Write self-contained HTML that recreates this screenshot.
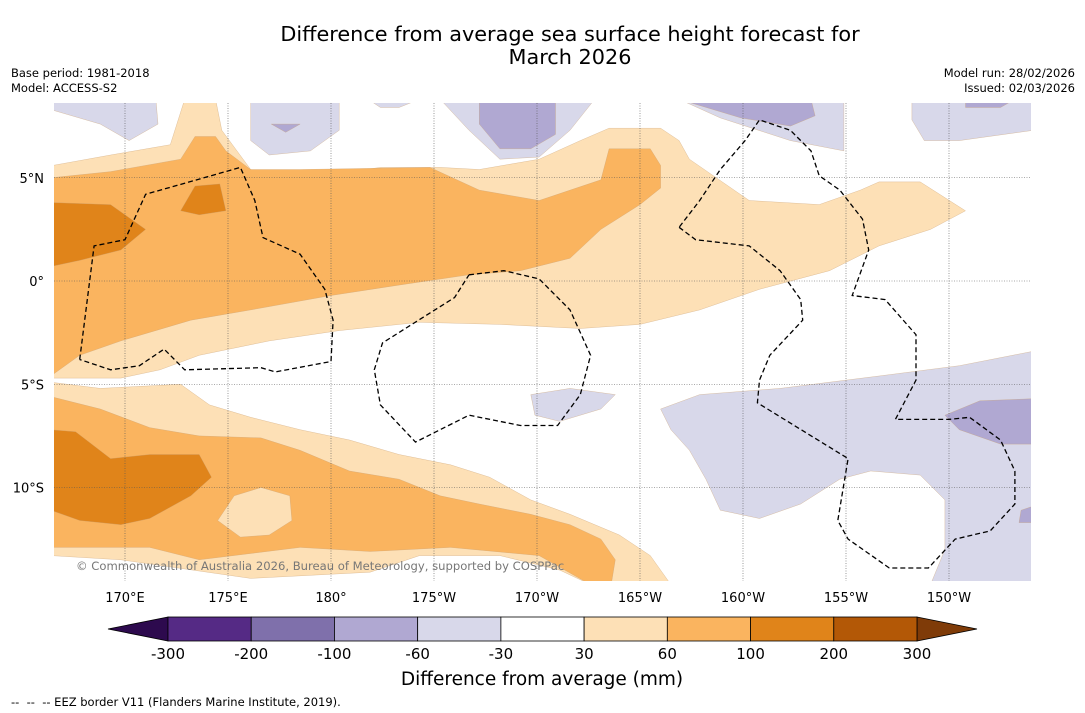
<!DOCTYPE html>
<html><head><meta charset="utf-8">
<style>
body{margin:0;background:#fff;width:1085px;height:713px;overflow:hidden;font-family:"DejaVu Sans","Liberation Sans",sans-serif;}
svg{position:absolute;left:0;top:0}
</style></head>
<body>
<svg id="svg" width="1085" height="713" xmlns="http://www.w3.org/2000/svg">
<text x="570" y="41" text-anchor="middle" font-size="20.8" fill="#000">Difference from average sea surface height forecast for</text>
<text x="570" y="64" text-anchor="middle" font-size="20.8" fill="#000">March 2026</text>
<text x="11" y="77" font-size="11.5">Base period: 1981-2018</text>
<text x="11" y="92" font-size="11.5">Model: ACCESS-S2</text>
<text x="1075" y="77" font-size="11.5" text-anchor="end">Model run: 28/02/2026</text>
<text x="1075" y="92" font-size="11.5" text-anchor="end">Issued: 02/03/2026</text>
<defs><clipPath id="mapclip"><rect x="54" y="103" width="977" height="478"/></clipPath></defs>
<g id="map" clip-path="url(#mapclip)"></g>
<g id="grid"></g>
<g id="eez" clip-path="url(#mapclip)"></g>
<text x="76" y="570" font-size="11.6" fill="#777">© Commonwealth of Australia 2026, Bureau of Meteorology, supported by COSPPac</text>
<g id="xt"></g>
<g id="yt"></g>
<g id="cbar"></g>
<text x="542" y="685" text-anchor="middle" font-size="18.5">Difference from average (mm)</text>
<text x="11" y="706" font-size="11.5">-- &#160;-- &#160;-- EEZ border V11 (Flanders Marine Institute, 2019).</text>
</svg>
<script>
const lonTicks=[170,175,180,185,190,195,200,205,210];
const lonLabels=["170°E","175°E","180°","175°W","170°W","165°W","160°W","155°W","150°W"];
const latTicks=[5,0,-5,-10];
const latLabels=["5°N","0°","5°S","10°S"];
const cbLevels=["-300","-200","-100","-60","-30","30","60","100","200","300"];
const cbColors=["#552a85","#7f70ab","#b0a8d2","#d8d8ea","#ffffff","#fde0b6","#fab45f","#e0841a","#b35806"];
const cbEnds=["#2d0a4e","#7f3b08"];
const LO="#fde0b6",OR="#fab45f",DO="#e0841a",LP="#d8d8ea",MP="#b0a8d2";
const LO1=[[166.5,5.6],[169.3,6.1],[172.2,6.6],[172.9,8.8],[174.4,8.8],[174.7,7.3],[176.1,5.4],[178,4.9],[182.4,5.5],[185.3,5.5],[187.2,5.4],[190.1,5.9],[192.1,6.8],[193.5,7.4],[196,7.4],[196.9,6.8],[197.4,5.9],[200.3,3.9],[203.7,3.7],[205.7,4.4],[206.6,4.8],[208.6,4.8],[210.8,3.4],[209.1,2.5],[206.6,1.7],[204.2,0.5],[200.8,-0.4],[197.9,-1.4],[195,-2.1],[192.1,-2.3],[188.2,-2.1],[184.3,-2],[180.4,-2.4],[177,-2.9],[173.6,-3.6],[171.7,-4.3],[169.8,-4.7],[166.4,-4.7]];
const OR1=[[166.4,5],[169.3,5.3],[172.7,5.9],[173.4,7],[174.4,7],[174.9,6.3],[176.1,5.4],[178.5,5.4],[184.8,5.5],[187.2,4.4],[190.1,3.9],[193.1,4.9],[193.5,6.4],[195.5,6.4],[196,5.6],[196,4.5],[195,3.7],[193.1,2.5],[191.6,1.1],[189.2,0.5],[186.7,0.3],[183.3,-0.2],[180,-0.7],[176.1,-1.4],[173.2,-1.9],[169.8,-2.9],[167.8,-3.6],[166.4,-4.6]];
const DO1=[[166.4,3.8],[169.3,3.7],[171,2.5],[169.8,1.5],[167.8,1],[166.4,0.7]];
const DO2=[[172.7,3.4],[173.4,4.6],[174.6,4.7],[174.9,3.4],[173.6,3.2]];
const LO2=[[166.4,-4.9],[168.8,-5.2],[172.7,-5],[174.1,-6],[176.1,-6.6],[178.5,-7.2],[180.9,-7.7],[183.3,-8.4],[185.8,-8.9],[187.7,-9.5],[189.7,-10.6],[191.6,-11.3],[194,-12.3],[195.5,-13.3],[196.5,-14.7],[192.6,-14.7],[191.1,-14],[188.2,-13.3],[184.3,-13.3],[181.9,-14.1],[176.1,-14.4],[169.8,-13.5],[166.4,-13.3]];
const OR2=[[166.4,-5.6],[168.8,-6.2],[171.2,-7.1],[173.6,-7.5],[176.6,-7.6],[178.5,-8.2],[180.9,-9.2],[183.3,-9.6],[185.3,-10.4],[187.2,-10.8],[189.7,-11.3],[191.6,-11.8],[193.1,-12.5],[193.8,-13.5],[193.6,-14.7],[192.6,-14.7],[190.1,-13.3],[185.8,-12.9],[181.9,-13.1],[178.5,-12.9],[173.6,-13.5],[171.2,-12.9],[166.4,-12.9]];
const DO3=[[166.4,-7.2],[167.6,-7.3],[169.3,-8.6],[171.2,-8.4],[173.6,-8.4],[174.2,-9.5],[173.2,-10.4],[171.2,-11.5],[169.8,-11.8],[167.8,-11.6],[166.4,-11.1]];
const LO3=[[174.5,-11.6],[175.3,-10.4],[176.6,-10],[178,-10.4],[178.1,-11.6],[177,-12.3],[175.6,-12.4]];
const LP1=[[166.4,8.8],[171.5,8.8],[171.6,7.6],[170.2,6.8],[168.8,7.6],[166.4,8.3]];
const LP2=[[176.1,8.8],[180.4,8.8],[180.4,7.3],[179,6.3],[177,6.1],[176.1,6.8]];
const LP3=[[181.8,8.8],[184.3,8.8],[183.3,8.4],[182.4,8.4]];
const LP4=[[185.3,8.8],[192.8,8.8],[191.6,7.3],[190.1,6],[188.2,5.9],[186.7,7.3]];
const LP5=[[196.9,8.8],[204.9,8.8],[204.9,6.3],[202.3,6.8],[198.9,7.9]];
const LP6=[[208.2,8.8],[214.1,8.8],[214.1,7.3],[210.5,6.8],[208.8,6.8],[208.2,7.8]];
const LP7=[[189.7,-5.5],[191.6,-5.2],[193.8,-5.5],[193.1,-6.2],[191.1,-6.8],[189.9,-6.5]];
const LP8=[[196,-6.2],[197.9,-5.5],[201.8,-5.2],[206.6,-4.6],[210.5,-4.1],[214.1,-3.4],[214.1,-14.7],[209.1,-14.7],[209.8,-13],[209.8,-10.6],[208.6,-9.4],[206.2,-9.2],[204.7,-9.6],[202.8,-10.8],[200.8,-11.5],[198.9,-11.1],[198.2,-9.6],[197.4,-8.2],[196.5,-7.2]];
const MP1=[[187.2,8.8],[190.9,8.8],[190.9,7.1],[189.7,6.4],[188.2,6.4],[187.2,7.6]];
const MP2=[[196.9,8.8],[203.3,8.8],[203.5,8],[202.3,7.5],[199.9,7.9]];
const MP3=[[210.8,8.8],[213.2,8.8],[212.5,8.4],[210.8,8.4]];
const MP4=[[177.1,7.6],[178.5,7.6],[177.8,7.2]];
const MP5=[[209.8,-6.5],[211.5,-5.8],[214.1,-5.7],[214.1,-7.9],[212.5,-7.9],[210.5,-7.2]];
const MP6=[[213.5,-11.1],[214.1,-10.9],[214.1,-11.7],[213.4,-11.7]];
const EEZ1=[[167.8,-3.8],[168.5,1.7],[170,2],[171,4.2],[175.6,5.5],[176.3,3.9],[176.7,2.1],[178.5,1.3],[179.7,-0.4],[180.1,-1.9],[180,-3.9],[177.3,-4.4],[176.6,-4.2],[172.9,-4.3],[171.9,-3.3],[170.7,-4.1],[169.3,-4.3],[167.8,-3.8]];
const EEZ2=[[186.7,0.3],[188.4,0.5],[190.1,0.1],[191.6,-1.4],[192.6,-3.6],[192.1,-5.5],[191,-7],[189.2,-7],[186.7,-6.5],[184.1,-7.8],[182.4,-6],[182.1,-4.3],[182.5,-3],[186,-0.8],[186.7,0.3]];
const EEZ3=[[196.9,2.6],[197.7,2],[200.3,1.7],[201.8,0.5],[202.8,-0.9],[202.9,-1.9],[201.3,-3.6],[200.8,-4.8],[200.7,-5.9],[205.1,-8.6],[204.6,-11.6],[205.1,-12.5],[207.1,-13.9],[209,-13.9],[210.3,-12.5],[212,-12.1],[213.2,-10.8],[213.2,-9.2],[212.5,-7.7],[211,-6.6],[210,-6.7],[207.4,-6.7],[208.4,-4.8],[208.4,-2.6],[206.9,-0.9],[205.3,-0.7],[206.1,1.5],[205.8,3],[204.7,4.4],[203.7,5.1],[203.3,6.3],[202.3,7.3],[200.8,7.8],[200.1,6.8],[198.9,5.4],[197.9,3.9],[196.9,2.6]];

const X=lon=>331+(lon-180)*20.6;
const Y=lat=>281-lat*20.65;
const NS="http://www.w3.org/2000/svg";
function mk(tag,attrs,parent){const e=document.createElementNS(NS,tag);for(const k in attrs)e.setAttribute(k,attrs[k]);parent.appendChild(e);return e;}
const map=document.getElementById('map');
const bg=mk('rect',{x:54,y:103,width:977,height:478,fill:'#fff'},map);


const layers=[[LO1,LO,'anomaly-30-60-north'],[OR1,OR,'anomaly-60-100-north'],[DO1,DO,'anomaly-100-200-west'],[DO2,DO,'anomaly-100-200-blob'],[LO2,LO,'anomaly-30-60-south'],[OR2,OR,'anomaly-60-100-south'],[DO3,DO,'anomaly-100-200-south'],[LO3,LO,'anomaly-30-60-pocket'],
[LP1,LP,'anomaly-neg30-60-a'],[LP2,LP,'anomaly-neg30-60-b'],[LP3,LP,'anomaly-neg30-60-c'],[LP4,LP,'anomaly-neg30-60-d'],[LP5,LP,'anomaly-neg30-60-e'],[LP6,LP,'anomaly-neg30-60-f'],[LP7,LP,'anomaly-neg30-60-g'],[LP8,LP,'anomaly-neg30-60-east'],
[MP1,MP,'anomaly-neg60-100-a'],[MP2,MP,'anomaly-neg60-100-b'],[MP3,MP,'anomaly-neg60-100-c'],[MP4,MP,'anomaly-neg60-100-d'],[MP5,MP,'anomaly-neg60-100-e'],[MP6,MP,'anomaly-neg60-100-f']];
layers.forEach(([pts,c,n])=>{
  const p=mk('polygon',{points:pts.map(q=>X(q[0]).toFixed(1)+','+Y(q[1]).toFixed(1)).join(' '),fill:c,stroke:'#c9a070','stroke-width':0.3,'stroke-linejoin':'round'},map);
  
  
});
const grid=document.getElementById('grid');
lonTicks.forEach((l,i)=>{
  const g=mk('line',{x1:X(l),x2:X(l),y1:103,y2:581,stroke:'#555','stroke-width':0.6,'stroke-dasharray':'1,1.5'},grid);
  
  
  const t=mk('text',{x:X(l),y:602,'text-anchor':'middle','font-size':13},document.getElementById('xt'));
  t.textContent=lonLabels[i];
  
  
});
latTicks.forEach((l,i)=>{
  const g=mk('line',{x1:54,x2:1031,y1:Y(l),y2:Y(l),stroke:'#555','stroke-width':0.6,'stroke-dasharray':'1,1.5'},grid);
  
  
  const t=mk('text',{x:44,y:Y(l)+5,'text-anchor':'end','font-size':13},document.getElementById('yt'));
  t.textContent=latLabels[i];
  
  
});
const eez=document.getElementById('eez');
[EEZ1,EEZ2,EEZ3].forEach(pts=>{
  const p=mk('polyline',{points:pts.map(q=>X(q[0]).toFixed(1)+','+Y(q[1]).toFixed(1)).join(' '),fill:'none',stroke:'#000','stroke-width':1.3,'stroke-dasharray':'5,3'},eez);
  
  
});
const cb=document.getElementById('cbar');
const cx0=168,cx1=917,cy=617,ch=24,cw=(cx1-cx0)/cbColors.length;
const tl=mk('polygon',{points:`${cx0},${cy} ${cx0-60},${cy+ch/2} ${cx0},${cy+ch}`,fill:cbEnds[0],stroke:'#000','stroke-width':0.8},cb);


const tr=mk('polygon',{points:`${cx1},${cy} ${cx1+60},${cy+ch/2} ${cx1},${cy+ch}`,fill:cbEnds[1],stroke:'#000','stroke-width':0.8},cb);


cbColors.forEach((c,i)=>{
  const r=mk('rect',{x:cx0+i*cw,y:cy,width:cw,height:ch,fill:c,stroke:'#000','stroke-width':0.8},cb);
  
  
});
cbLevels.forEach((v,i)=>{
  const t=mk('text',{x:cx0+i*cw,y:659,'text-anchor':'middle','font-size':15},cb);
  t.textContent=v;
  
  
});
</script>
</body></html>
